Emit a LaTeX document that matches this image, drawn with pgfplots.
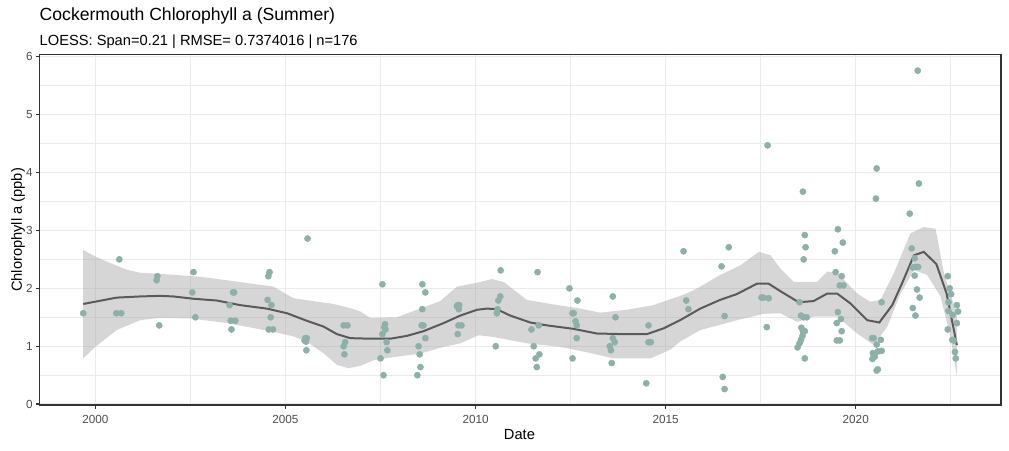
\documentclass[border=0pt]{standalone}
\usepackage{pgfplots}
\pgfplotsset{compat=1.18}
\usepackage{fontspec}
\setmainfont{Liberation Sans}
\definecolor{ptcol}{RGB}{141,177,169}
\definecolor{lncol}{RGB}{90,90,90}
\definecolor{ribcol}{RGB}{153,153,153}
\definecolor{gridcol}{RGB}{235,235,235}
\definecolor{bordcol}{RGB}{51,51,51}
\definecolor{tlcol}{RGB}{77,77,77}
\begin{document}
\begin{tikzpicture}
\path[use as bounding box] (0,0) rectangle (756.75pt,337.5pt);
\node[anchor=base west, inner sep=0pt, font=\fontsize{13.2pt}{15pt}\selectfont] at (29.6pt,321.75pt) {Cockermouth Chlorophyll a (Summer)};
\node[anchor=base west, inner sep=0pt, font=\fontsize{11pt}{13pt}\selectfont] at (29.6pt,303.4pt) {LOESS: Span=0.21 | RMSE= 0.7374016 | n=176};
\node[anchor=base, inner sep=0pt, font=\fontsize{11pt}{13pt}\selectfont] at (389.6pt,8.0pt) {Date};
\node[anchor=base, rotate=90, inner sep=0pt, font=\fontsize{11pt}{13pt}\selectfont] at (16.5pt,165pt) {Chlorophyll a (ppb)};
\begin{axis}[
  at={(29.625pt,33.75pt)},
  scale only axis,
  width=721.1pt, height=262.7pt,
  xmin=1998.53, xmax=2023.82,
  ymin=-0.015, ymax=6.035,
  xtick={2000,2005,2010,2015,2020},
  xticklabels={2000,2005,2010,2015,2020},
  minor xtick={2002.5,2007.5,2012.5,2017.5,2022.5},
  ytick={0,1,2,3,4,5,6},
  minor ytick={0.5,1.5,2.5,3.5,4.5,5.5},
  grid=both,
  major grid style={draw=gridcol, line width=1.07pt},
  minor grid style={draw=gridcol, line width=0.53pt},
  axis line style={draw=bordcol, line width=1.07pt},
  tick align=outside,
  major tick length=2.75pt,
  minor tick length=0pt,
  major tick style={draw=bordcol, line width=1.07pt},
  xtick pos=bottom, ytick pos=left,
  /pgf/number format/assume math mode=true,
  tick label style={font=\fontsize{8.8pt}{10pt}\selectfont, text=tlcol},
  xticklabel style={yshift=-1.2pt},
  yticklabel style={xshift=1.2pt},
  clip=true,
]
\addplot[only marks, mark=*, mark size=2.3pt, color=ptcol, mark options={draw=none, fill=ptcol}] coordinates {
(1999.68,1.57) (2000.63,2.50) (2000.55,1.57) (2000.68,1.57) (2001.63,2.21) (2001.61,2.14) (2001.68,1.36)
(2002.58,2.28) (2002.55,1.93) (2002.63,1.50) (2003.62,1.93) (2003.65,1.93) (2003.53,1.71) (2003.56,1.44)
(2003.68,1.44) (2003.58,1.29) (2004.58,2.28) (2004.55,2.21) (2004.53,1.80) (2004.63,1.71) (2004.61,1.50)
(2004.56,1.29) (2004.67,1.29) (2005.58,2.86) (2005.52,1.14) (2005.56,1.14) (2005.54,1.08) (2005.50,1.10)
(2005.55,0.93) (2006.53,1.36) (2006.63,1.36) (2006.57,1.07) (2006.53,1.00) (2006.55,0.86)
(2007.55,2.07) (2007.62,1.38) (2007.63,1.29) (2007.55,1.21) (2007.66,1.07) (2007.68,0.93) (2007.50,0.79)
(2007.58,0.50) (2007.60,1.33) (2008.60,2.07) (2008.68,1.93) (2008.60,1.64) (2008.58,1.36) (2008.63,1.36)
(2008.68,1.14) (2008.50,1.00) (2008.53,0.86) (2008.55,0.64) (2008.47,0.50) (2009.53,1.71) (2009.57,1.71)
(2009.56,1.64) (2009.51,1.69) (2009.63,1.36) (2009.55,1.36) (2009.53,1.21) (2010.66,2.31) (2010.65,1.86)
(2010.60,1.79) (2010.58,1.64) (2010.56,1.57) (2010.53,1.00) (2011.63,2.28) (2011.47,1.29) (2011.66,1.36)
(2011.53,1.00) (2011.68,0.86) (2011.58,0.79) (2011.61,0.64) (2012.47,2.00) (2012.68,1.79) (2012.55,1.57)
(2012.58,1.57) (2012.63,1.43) (2012.66,1.36) (2012.66,1.14) (2012.55,0.79) (2013.61,1.86) (2013.68,1.50)
(2013.61,1.14) (2013.66,1.07) (2013.53,1.00) (2013.56,0.93) (2013.58,0.71) (2014.55,1.36) (2014.55,1.07)
(2014.61,1.07) (2014.49,0.36) (2015.47,2.64) (2015.54,1.79) (2015.60,1.64) (2016.66,2.71) (2016.47,2.38)
(2016.55,1.52) (2016.50,0.47) (2016.55,0.26) (2017.68,4.47) (2017.52,1.84) (2017.57,1.84) (2017.71,1.83)
(2017.66,1.33) (2018.61,3.67) (2018.66,2.92) (2018.68,2.71) (2018.63,2.50) (2018.52,1.76) (2018.56,1.53)
(2018.71,1.50) (2018.63,1.50) (2018.57,1.32) (2018.61,1.26) (2018.66,1.26) (2018.60,1.18) (2018.56,1.11)
(2018.52,1.05) (2018.47,0.98) (2018.66,0.79) (2019.53,3.02) (2019.66,2.79) (2019.45,2.64) (2019.47,2.28)
(2019.63,2.21) (2019.58,2.05) (2019.68,2.05) (2019.53,1.59) (2019.61,1.47) (2019.50,1.40) (2019.63,1.26)
(2019.50,1.10) (2019.58,1.10) (2020.55,4.07) (2020.53,3.55) (2020.68,1.76) (2020.43,1.14) (2020.47,1.14)
(2020.66,1.11) (2020.55,1.03) (2020.45,0.88) (2020.58,0.91) (2020.68,0.92) (2020.50,0.82) (2020.44,0.78)
(2020.58,0.60) (2020.55,0.58) (2021.66,3.81) (2021.42,3.29) (2021.47,2.69) (2021.55,2.52) (2021.50,2.36)
(2021.58,2.37) (2021.64,2.37) (2021.55,2.22) (2021.61,1.98) (2021.68,1.84) (2021.50,1.66) (2021.57,1.53)
(2021.63,5.76) (2022.42,2.21) (2022.47,2.00) (2022.51,1.90) (2022.44,1.76) (2022.66,1.71) (2022.69,1.60)
(2022.44,1.61) (2022.55,1.54) (2022.66,1.40) (2022.42,1.29) (2022.54,1.11) (2022.58,1.10) (2022.61,0.90)
(2022.63,0.79)
};
\addplot[fill=ribcol, fill opacity=0.4, draw=none] coordinates {
(1999.68,2.66) (2000.00,2.55) (2000.31,2.46) (2000.83,2.32) (2001.18,2.27) (2001.70,2.25) (2002.76,2.20)
(2003.46,2.14) (2004.68,2.03) (2005.21,1.83) (2005.83,1.77) (2006.26,1.73) (2006.70,1.66) (2006.97,1.60)
(2007.23,1.49) (2007.93,1.50) (2009.07,1.78) (2009.51,2.03) (2009.99,2.09) (2010.43,2.16) (2010.74,2.11)
(2011.35,1.80) (2011.97,1.73) (2012.67,1.66) (2013.28,1.58) (2013.98,1.63) (2014.68,1.71) (2015.38,1.87)
(2015.65,1.94) (2015.91,2.03) (2016.43,2.23) (2016.97,2.40) (2017.45,2.63) (2017.76,2.57) (2018.02,2.34)
(2018.37,2.11) (2018.98,2.11) (2019.25,2.29) (2019.51,2.27) (2020.04,1.91) (2020.38,1.77) (2020.65,1.80)
(2021.00,2.26) (2021.44,2.95) (2021.79,3.06) (2022.10,3.03) (2022.32,2.26) (2022.66,1.55)
(2022.66,0.48) (2022.49,1.17) (2022.23,1.86) (2021.88,2.23) (2021.53,2.32) (2021.18,1.91) (2020.83,1.34)
(2020.47,1.02) (2020.04,1.22) (2019.51,1.51) (2018.89,1.51) (2018.46,1.42) (2018.02,1.57) (2017.58,1.56)
(2016.88,1.45) (2016.43,1.37) (2015.91,1.28) (2015.38,1.08) (2015.12,0.94) (2014.60,0.79) (2013.63,0.79)
(2013.11,0.87) (2012.23,0.99) (2011.35,1.05) (2010.47,1.16) (2010.08,1.19) (2009.60,1.05) (2009.16,0.99)
(2008.54,0.87) (2007.93,0.82) (2007.32,0.76) (2006.97,0.66) (2006.66,0.62) (2006.35,0.68) (2006.00,0.88)
(2005.56,1.08) (2005.21,1.17) (2004.68,1.25) (2003.46,1.40) (2002.49,1.48) (2001.70,1.49) (2001.18,1.45)
(2000.56,1.28) (2000.00,0.99) (1999.68,0.79)
};
\addplot[color=lncol, line width=1.5pt, no marks] coordinates {
(1999.68,1.73) (2000.00,1.77) (2000.56,1.84) (2001.18,1.86) (2001.70,1.87) (2002.05,1.86) (2002.58,1.82)
(2003.19,1.79) (2003.81,1.71) (2004.51,1.65) (2005.04,1.57) (2005.56,1.44) (2006.00,1.34) (2006.35,1.21)
(2006.70,1.14) (2007.23,1.13) (2007.76,1.13) (2008.20,1.18) (2008.63,1.26) (2009.16,1.40) (2009.60,1.53)
(2010.04,1.63) (2010.30,1.65) (2010.56,1.64) (2010.91,1.53) (2011.44,1.41) (2011.88,1.36) (2012.58,1.30)
(2013.19,1.22) (2013.81,1.21) (2014.51,1.21) (2014.95,1.31) (2015.38,1.45) (2015.91,1.65) (2016.43,1.80)
(2016.87,1.90) (2017.40,2.08) (2017.71,2.08) (2018.02,1.95) (2018.50,1.76) (2018.89,1.78) (2019.25,1.91)
(2019.51,1.91) (2019.86,1.74) (2020.30,1.45) (2020.62,1.41) (2020.96,1.71) (2021.22,2.09) (2021.53,2.57)
(2021.79,2.63) (2022.12,2.42) (2022.39,1.91) (2022.66,1.02)
};
\end{axis}
\end{tikzpicture}
\end{document}
